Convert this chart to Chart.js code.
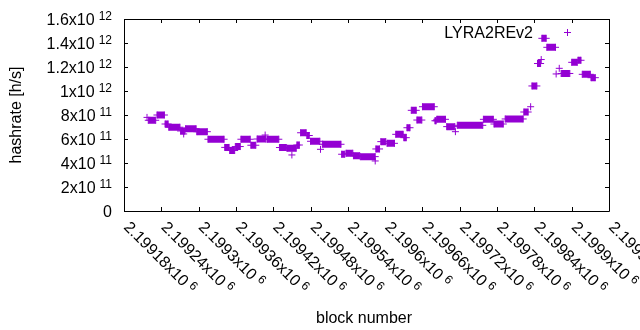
<!DOCTYPE html>
<html><head><meta charset="utf-8">
<script src="https://cdn.jsdelivr.net/npm/chart.js@4/dist/chart.umd.min.js"></script>
<style>html,body{margin:0;padding:0;background:#fff;}#wrap{width:640px;height:330px;}</style>
</head><body><div id="wrap"><canvas id="c" width="640" height="330"></canvas></div>
<script>
const seriesName = "LYRA2REv2";
const xTitle = "block number";
const yTitle = "hashrate [h/s]";
// runs of consecutive blocks sharing the same hashrate value
const runStart = [2199217,2199219,2199233,2199246,2199252,2199271,2199276,2199279,2199297,2199315,2199342,2199350,2199359,2199368,2199384,2199394,2199407,2199410,2199430,2199442,2199450,2199458,2199464,2199474,2199480,2199496,2199499,2199530,2199537,2199549,2199560,2199584,2199585,2199593,2199603,2199617,2199630,2199635,2199642,2199651,2199660,2199680,2199683,2199699,2199713,2199716,2199758,2199775,2199793,2199823,2199834,2199836,2199845,2199851,2199852,2199860,2199875,2199880,2199883,2199900,2199910,2199917,2199931];
const runEnd = [2199217,2199231,2199245,2199251,2199270,2199278,2199276,2199296,2199314,2199341,2199349,2199358,2199367,2199383,2199392,2199408,2199407,2199429,2199441,2199457,2199450,2199462,2199473,2199478,2199495,2199496,2199529,2199535,2199548,2199559,2199584,2199584,2199591,2199601,2199615,2199629,2199634,2199640,2199650,2199659,2199679,2199682,2199697,2199712,2199713,2199757,2199774,2199790,2199822,2199830,2199834,2199844,2199850,2199851,2199859,2199874,2199875,2199880,2199897,2199909,2199915,2199930,2199938];
const runValue = [7.8e11,7.56e11,8.0e11,7.25e11,6.98e11,6.67e11,6.42e11,6.85e11,6.61e11,5.98e11,5.3e11,5.04e11,5.37e11,5.98e11,5.48e11,6.0e11,6.33e11,5.98e11,5.29e11,5.23e11,4.67e11,5.5e11,6.52e11,6.29e11,5.81e11,5.14e11,5.56e11,4.73e11,4.81e11,4.61e11,4.53e11,4.17e11,5.17e11,5.78e11,5.64e11,6.39e11,6.11e11,6.94e11,8.39e11,7.58e11,8.69e11,7.52e11,7.64e11,7.03e11,6.61e11,7.14e11,7.64e11,7.25e11,7.67e11,8.25e11,8.69e11,1.042e12,1.229e12,1.262e12,1.439e12,1.364e12,1.142e12,1.189e12,1.146e12,1.239e12,1.256e12,1.139e12,1.111e12];
const xTickValues = [2199180,2199240,2199300,2199360,2199420,2199480,2199540,2199600,2199660,2199720,2199780,2199840,2199900,2199960];
const xTickLabels = ["2.19918x10","2.19924x10","2.1993x10","2.19936x10","2.19942x10","2.19948x10","2.19954x10","2.1996x10","2.19966x10","2.19972x10","2.19978x10","2.19984x10","2.1999x10","2.19996x10"];
const xTickExponents = ["6","6","6","6","6","6","6","6","6","6","6","6","6","6"];
const yTickValues = [0,2e11,4e11,6e11,8e11,1e12,1.2e12,1.4e12,1.6e12];
const yTickLabels = ["0","2x10","4x10","6x10","8x10","1x10","1.2x10","1.4x10","1.6x10"];
const yTickExponents = ["","11","11","11","11","12","12","12","12"];

const COLOR = '#9400D3';
const FONT = '"Liberation Sans", Arial, sans-serif';
const mainFont = '16px ' + FONT;
const expFont = '12px ' + FONT;

const points = [];
for (let i = 0; i < runStart.length; i++) {
  points.push({x: runStart[i], y: runValue[i]});
  if (runEnd[i] !== runStart[i]) points.push({x: runEnd[i], y: runValue[i]});
  points.push({x: runEnd[i], y: null});
}

const decor = {
  id: 'decor',
  afterDraw(chart) {
    const ctx = chart.ctx, a = chart.chartArea;
    const xs = chart.scales.x, ys = chart.scales.y;
    ctx.save();
    ctx.strokeStyle = '#000'; ctx.lineWidth = 1;
    ctx.beginPath();
    ctx.rect(Math.round(a.left) + 0.5, Math.round(a.top) + 0.5, Math.round(a.right - a.left), Math.round(a.bottom - a.top));
    ctx.stroke();
    ctx.beginPath();
    xTickValues.forEach(v => {
      const px = Math.round(xs.getPixelForValue(v)) + 0.5;
      ctx.moveTo(px, a.bottom); ctx.lineTo(px, a.bottom - 4);
      ctx.moveTo(px, a.top); ctx.lineTo(px, a.top + 4);
    });
    yTickValues.forEach(v => {
      const py = Math.round(ys.getPixelForValue(v)) + 0.5;
      ctx.moveTo(a.left, py); ctx.lineTo(a.left + 4, py);
      ctx.moveTo(a.right, py); ctx.lineTo(a.right - 4, py);
    });
    ctx.stroke();
    ctx.fillStyle = '#000';
    ctx.textBaseline = 'alphabetic';
    // y tick labels
    yTickValues.forEach((v, i) => {
      const py = ys.getPixelForValue(v);
      const right = a.left - 12;
      const e = yTickExponents[i];
      ctx.font = expFont;
      const we = e ? ctx.measureText(e).width : 0;
      const gap = e ? 4 : 0;
      ctx.textAlign = 'left';
      if (e) ctx.fillText(e, right - we, py + 0.5);
      ctx.font = mainFont;
      const wm = ctx.measureText(yTickLabels[i]).width;
      ctx.fillText(yTickLabels[i], right - we - gap - wm, py + 5.5);
    });
    // x tick labels, rotated
    xTickValues.forEach((v, i) => {
      const px = xs.getPixelForValue(v);
      ctx.save();
      ctx.translate(px + 3, a.bottom + 13);
      ctx.rotate(Math.PI / 4);
      ctx.textAlign = 'left';
      ctx.font = mainFont;
      const wm = ctx.measureText(xTickLabels[i]).width;
      ctx.fillText(xTickLabels[i], 0, 5.5);
      ctx.font = expFont;
      ctx.fillText(xTickExponents[i], wm + 4, 0.5);
      ctx.restore();
    });
    // axis titles
    ctx.font = mainFont;
    ctx.textAlign = 'center';
    ctx.fillText(xTitle, 364, 322.5);
    ctx.save();
    ctx.translate(21, (a.top + a.bottom) / 2);
    ctx.rotate(-Math.PI / 2);
    ctx.fillText(yTitle, 0, 0);
    ctx.restore();
    // key
    ctx.textAlign = 'right';
    ctx.fillText(seriesName, 533, 37.5);
    ctx.strokeStyle = COLOR;
    ctx.beginPath();
    ctx.moveTo(564, 32.5); ctx.lineTo(571, 32.5);
    ctx.moveTo(567.5, 29); ctx.lineTo(567.5, 36);
    ctx.stroke();
    ctx.restore();
  }
};

new Chart(document.getElementById('c'), {
  type: 'line',
  data: {
    datasets: [{
      label: seriesName,
      data: points,
      borderColor: COLOR,
      backgroundColor: COLOR,
      borderWidth: 7,
      borderCapStyle: 'butt',
      spanGaps: false,
      fill: false,
      tension: 0,
      pointStyle: 'cross',
      pointRadius: 3.5,
      pointBorderWidth: 1,
      pointBorderColor: COLOR,
      pointBackgroundColor: COLOR
    }]
  },
  options: {
    responsive: false,
    devicePixelRatio: 1,
    animation: false,
    events: [],
    layout: {padding: {left: 124, right: 31, top: 19, bottom: 119}},
    scales: {
      x: {type: 'linear', min: 2199180, max: 2199960, display: false},
      y: {type: 'linear', min: 0, max: 1.6e12, display: false}
    },
    plugins: {legend: {display: false}, tooltip: {enabled: false}}
  },
  plugins: [decor]
});
</script>
</body></html>
